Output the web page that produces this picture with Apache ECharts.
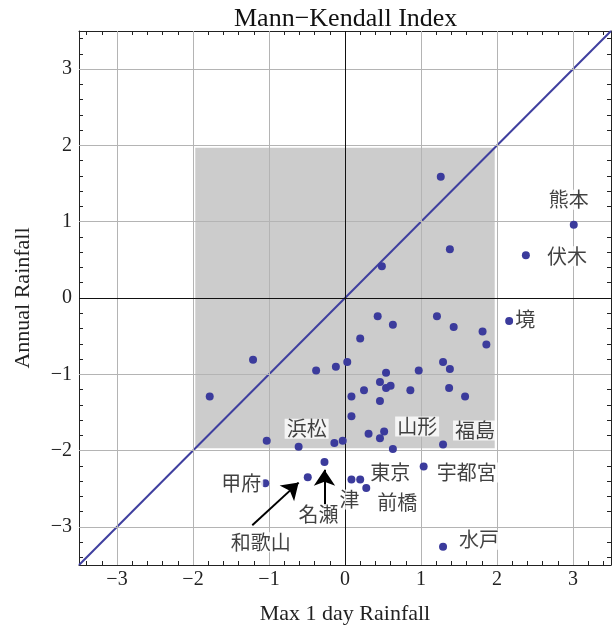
<!DOCTYPE html>
<html>
<head>
<meta charset="utf-8">
<script src="https://cdn.jsdelivr.net/npm/echarts@6/dist/echarts.min.js"></script>
<style>
  html, body { margin: 0; padding: 0; background: #fff; }
  #main { width: 616px; height: 628px; }
</style>
</head>
<body>
<div id="main"></div>
<script>
// Mann-Kendall index per station: x = max 1 day rainfall, y = annual rainfall
const stationNames = [
  '', '', '', '', '', '', '', '境', '', '',
  '', '', '', '', '', '', '', '', '', '',
  '', '', '', '', '', '', '', '', '', '',
  '', '浜松', '', '', '', '山形', '', '', '福島',
  '熊本', '伏木', '名瀬', '和歌山', '甲府', '津', '東京', '前橋', '宇都宮', '水戸'
]
const maxDayIndex = [
  1.26, 1.38, 0.485, 0.43, 0.63, 1.21, 1.43, 2.16, 1.81, 1.86,
  0.20, -1.21, -0.38, -0.12, 0.03, 0.54, 0.97, 1.29, 1.38, 0.46,
  0.54, 0.60, 0.25, 0.86, 1.37, 1.58, -1.78, 0.085, 0.46, 0.085,
  -1.03, -0.61, -0.14, -0.03, 0.31, 0.515, 0.46, 0.63, 1.29,
  3.01, 2.38, -0.27, -0.49, -1.05, 0.085, 0.20, 0.28, 1.035, 1.29
]
const annualIndex = [
  1.59, 0.64, 0.415, -0.24, -0.35, -0.24, -0.38, -0.30, -0.44, -0.61,
  -0.53, -0.81, -0.95, -0.90, -0.84, -0.98, -0.95, -0.84, -0.93, -1.10,
  -1.18, -1.15, -1.21, -1.21, -1.18, -1.29, -1.29, -1.29, -1.35, -1.55,
  -1.87, -1.95, -1.90, -1.87, -1.78, -1.75, -1.84, -1.98, -1.92,
  0.96, 0.56, -2.15, -2.35, -2.43, -2.38, -2.38, -2.49, -2.21, -3.26
]
const tickValues = [-3, -2, -1, 0, 1, 2, 3]
const axisRange = [-3.5, 3.5]
const boxRange = [-1.97, 1.97]
const diagonal = [-3.5, 3.5]
// arrows: [fromX, fromY, toX, toY]
const arrows = [
  [-1.22, -2.98, -0.61, -2.42],
  [-0.27, -2.72, -0.27, -2.25]
]

// label offsets (px) from the point centre
const labelOffsets = {
  '境': [16, -1], '熊本': [-5, -25], '伏木': [41, 1],
  '浜松': [8, -18], '山形': [33, -5], '福島': [32, -14],
  '甲府': [-24, 0], '名瀬': [-6, 52], '和歌山': [-47, 65],
  '津': [-2, 20], '東京': [30, -7], '前橋': [31, 14],
  '宇都宮': [43, 6], '水戸': [36, -7]
}

const serif = 'Liberation Serif'
const minorTicks = []
for (let i = -34; i <= 34; i += 2) {
  if (i % 10 !== 0) minorTicks.push(i / 10)
}

function makeAxis (pos, ticks, len, main) {
  const ax = {
    type: 'value',
    position: pos,
    min: axisRange[0],
    max: axisRange[1],
    axisLine: { show: main, onZero: false, lineStyle: { color: '#222', width: 1 } },
    axisTick: { show: true, inside: true, length: len, customValues: ticks, lineStyle: { color: '#222', width: 1 } },
    axisLabel: { show: false },
    splitLine: { show: false }
  }
  if (main && (pos === 'bottom' || pos === 'left')) {
    ax.axisLabel = {
      show: true,
      customValues: tickValues,
      formatter: v => String(v).replace('-', '\u2212'),
      fontFamily: serif,
      fontSize: 20,
      color: '#222',
      margin: pos === 'bottom' ? 5 : 7
    }
  }
  return ax
}

const xAxes = [
  makeAxis('bottom', tickValues, 8, true),
  makeAxis('top', tickValues, 8, true),
  makeAxis('bottom', minorTicks, 4, false),
  makeAxis('top', minorTicks, 4, false)
]
xAxes[0].name = 'Max 1 day Rainfall'
xAxes[0].nameLocation = 'middle'
xAxes[0].nameGap = 38
xAxes[0].nameTextStyle = { fontFamily: serif, fontSize: 22, color: '#222' }

const yAxes = [
  makeAxis('left', tickValues, 8, true),
  makeAxis('right', tickValues, 8, true),
  makeAxis('left', minorTicks, 4, false),
  makeAxis('right', minorTicks, 4, false)
]
yAxes[0].name = 'Annual Rainfall'
yAxes[0].nameLocation = 'middle'
yAxes[0].nameGap = 45
yAxes[0].nameTextStyle = { fontFamily: serif, fontSize: 22, color: '#222' }

const points = maxDayIndex.map((x, i) => [x, annualIndex[i]])
const labelled = []
stationNames.forEach((n, i) => {
  if (n !== '') {
    labelled.push({
      name: n,
      value: points[i],
      label: { offset: labelOffsets[n] }
    })
  }
})

const myChart = echarts.init(document.getElementById('main'))
myChart.setOption({
  animation: false,
  backgroundColor: '#fff',
  title: {
    text: 'Mann\u2212Kendall Index',
    left: 229,
    top: 1,
    textStyle: { fontFamily: serif, fontSize: 26, fontWeight: 'normal', color: '#111' }
  },
  grid: { left: 79, right: 5, top: 31, bottom: 63, outerBoundsMode: 'none', containLabel: false },
  xAxis: xAxes,
  yAxis: yAxes,
  series: [
    {
      // grid lines
      type: 'line', data: [], z: 1, silent: true,
      markLine: {
        silent: true, symbol: ['none', 'none'], label: { show: false },
        lineStyle: { color: '#b4b4b4', width: 1, type: 'solid' },
        data: tickValues.filter(v => v !== 0).map(v => ({ xAxis: v }))
          .concat(tickValues.filter(v => v !== 0).map(v => ({ yAxis: v })))
      }
    },
    {
      // gray box
      type: 'line', data: [], z: 2, silent: true,
      markArea: {
        silent: true,
        itemStyle: { color: '#cccccc' },
        data: [[{ coord: [boxRange[0], boxRange[0]] }, { coord: [boxRange[1], boxRange[1]] }]]
      }
    },
    {
      // zero lines
      type: 'line', data: [], z: 3, silent: true,
      markLine: {
        silent: true, symbol: ['none', 'none'], label: { show: false },
        lineStyle: { color: '#111', width: 1, type: 'solid' },
        data: [{ xAxis: 0 }, { yAxis: 0 }]
      }
    },
    {
      type: 'line', z: 4, symbol: 'none', silent: true,
      lineStyle: { color: '#3f3f9f', width: 2 },
      data: [[diagonal[0], diagonal[0]], [diagonal[1], diagonal[1]]]
    },
    {
      type: 'scatter', z: 5, symbolSize: 8, silent: true,
      itemStyle: { color: '#3b3b9c', opacity: 1 },
      data: points
    },
    {
      type: 'scatter', z: 6, symbolSize: 0, silent: true,
      data: labelled,
      label: {
        show: true,
        position: 'inside',
        formatter: p => p.name,
        fontFamily: 'Noto Sans CJK JP',
        fontSize: 20,
        color: '#111',
        backgroundColor: '#fff',
        padding: [0, 2]
      }
    },
    {
      type: 'line', data: [], z: 7, silent: true,
      markLine: {
        silent: true, symbol: ['none', 'arrow'], symbolSize: 16,
        label: { show: false },
        itemStyle: { color: '#000' },
        lineStyle: { color: '#000', width: 2, type: 'solid' },
        data: arrows.map(a => [{ coord: [a[0], a[1]] }, { coord: [a[2], a[3]] }])
      }
    }
  ]
})
</script>
</body>
</html>
